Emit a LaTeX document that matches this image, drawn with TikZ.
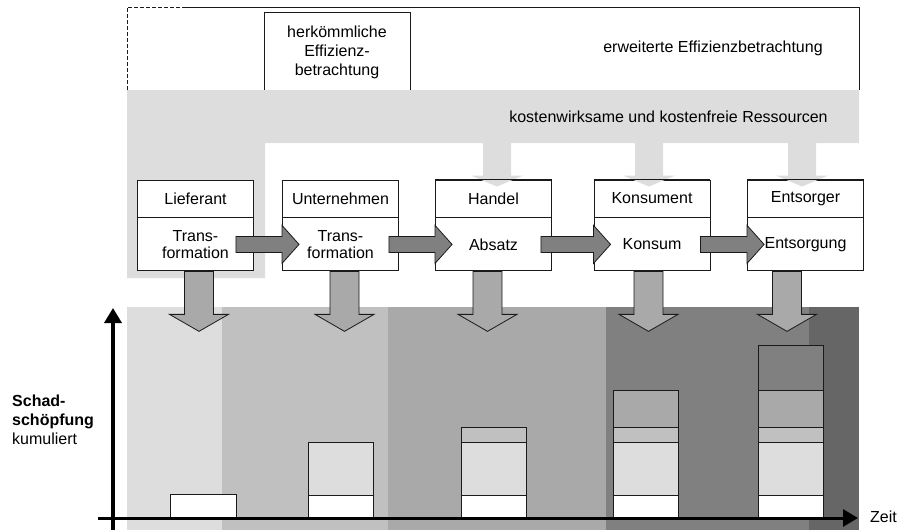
\documentclass[tikz,border=0pt]{standalone}
\usepackage{fontspec}
\setmainfont{Liberation Sans}
\usetikzlibrary{calc,arrows.meta}
\definecolor{g1}{HTML}{DDDDDD}
\definecolor{g2}{HTML}{C0C0C0}
\definecolor{g3}{HTML}{A9A9A9}
\definecolor{g4}{HTML}{808080}
\definecolor{g5}{HTML}{666666}
\definecolor{edge}{HTML}{1A1A1A}

% horizontal flow arrow between the lower parts of two stage boxes
\newcommand\flowar[3]{%
  \draw[flowarrow] ($(#1.east)+(-#3,-8)$) -- ($(#2.west)+(0,-8)$) -- ++(0,-11)
    -- ++(17,19) -- ++(-17,19) -- ++(0,-11) -- ($(#1.east)+(-#3,8)$) -- cycle;}
% downward arrow from a stage box into the time line
\newcommand\dropar[2]{%
  \draw[droparrow] ($(#1.south)+(#2-14.5,0)$) -- ++(0,43) -- ++(-15,0)
    -- ++(29.5,17) -- ++(29.5,-17) -- ++(-15,0) -- ++(0,-43) -- cycle;}
% resource arrow from the band into the top of a stage box
\newcommand\feedar[2]{%
  \fill[g1] ($(#1.north)+(#2-14,-37)$) -- ++(0,33) -- ++(-12,0)
    -- ++(26,11) -- ++(26,-11) -- ++(-12,0) -- ++(0,-33) -- cycle;
  \draw[edge, line width=0.9pt] (#1.north west) -- (#1.north east);}

\begin{document}
\begin{tikzpicture}[x=1pt,y=-1pt,
  every node/.style={font=\fontsize{16}{17}\selectfont, inner sep=0pt, text=black},
  stagehead/.style={draw=edge, line width=0.9pt, fill=white,
    minimum width=116pt, minimum height=37pt},
  stagebody/.style={draw=edge, line width=0.9pt, fill=white,
    minimum width=116pt, minimum height=53pt, align=center, anchor=north},
  flowarrow/.style={draw=edge, line width=0.8pt, fill=g4},
  droparrow/.style={draw=edge, line width=0.8pt, fill=g3},
  barseg/.style={draw=edge, line width=0.9pt},
  axisline/.style={line width=#1, -{Triangle[width=17pt,length=15pt]}},
  sidelabel/.style={anchor=base west},
]
\useasboundingbox (0,0) rectangle (904,530);

% time line phases
\fill[g1] (127,307) rectangle (222,530);
\fill[g2] (222,307) rectangle (388,530);
\fill[g3] (388,307) rectangle (606,530);
\fill[g4] (606,307) rectangle (809,530);
\fill[g5] (809,307) rectangle (859,530);

% frame of the extended view
\draw[edge, line width=0.8pt, dash pattern=on 4pt off 2pt] (127,90) -- (127,7) -- (183,7);
\draw[edge, line width=1pt] (183,7) -- (859,7) -- (859,90);
\node[draw=edge, line width=0.9pt, minimum width=146pt, minimum height=80pt,
  align=center, font=\fontsize{16}{19}\selectfont] (classic) at (337,52)
  {herkömmliche\\Effizienz-\\betrachtung};
\node (extended) at (713,48) {erweiterte Effizienzbetrachtung};

% resource band
\fill[g1] (127,90) -- (859,90) -- (859,143) -- (265,143) -- (265,278) -- (127,278) -- cycle;
\node (resources) at (668.5,117) {kostenwirksame und kostenfreie Ressourcen};

% stages of the value chain
\node[stagehead] (lief-h) at (195.5,198.5) {Lieferant};
\node[stagebody] (lief-b) at (lief-h.south) {Trans-\\formation};
\node[stagehead] (unt-h) at (340.5,198.5) {Unternehmen};
\node[stagebody] (unt-b) at (unt-h.south) {Trans-\\formation};
\node[stagehead] (hand-h) at (493.5,198.5) {Handel};
\node[stagebody] (hand-b) at (hand-h.south) {Absatz};
\node[stagehead] (kons-h) at (652,198.5) {Konsument};
\node[stagebody] (kons-b) at (kons-h.south) {Konsum};
\node[stagehead] (ents-h) at (805.5,198.5) {Entsorger};
\node[stagebody] (ents-b) at (ents-h.south) {Entsorgung};

% resources flowing into the later stages
\feedar{hand-h}{3.5}
\feedar{kons-h}{-3}
\feedar{ents-h}{-3.5}

% material flow between the stages
\flowar{lief-b}{unt-b}{18}
\flowar{unt-b}{hand-b}{10}
\flowar{hand-b}{kons-b}{11}
\flowar{kons-b}{ents-b}{10}

% damage caused by each stage
\dropar{lief-b}{3.5}
\dropar{unt-b}{4}
\dropar{hand-b}{-6}
\dropar{kons-b}{-3.5}
\dropar{ents-b}{-18.5}

% cumulated damage
\draw[barseg, fill=white] (170,494) rectangle (236,518);
\foreach \xa/\xb in {308/373, 461/526, 613/678, 758/823}
  \draw[barseg, fill=white] (\xa,495) rectangle (\xb,518);
\foreach \xa/\xb in {308/373, 461/526, 613/678, 758/823}
  \draw[barseg, fill=g1] (\xa,442) rectangle (\xb,495);
\foreach \xa/\xb in {461/526, 613/678, 758/823}
  \draw[barseg, fill=g2] (\xa,427) rectangle (\xb,442);
\foreach \xa/\xb in {613/678, 758/823}
  \draw[barseg, fill=g3] (\xa,390) rectangle (\xb,427);
\draw[barseg, fill=g4] (758,345) rectangle (823,390);

% axes
\coordinate (ybase) at (113,530);
\coordinate (ytop) at (113,308);
\coordinate (xbase) at (98,518);
\coordinate (xend) at (858,518);
\draw[axisline=3.5pt] (ybase) -- (ytop);
\draw[axisline=3pt] (xbase) -- (xend);
\node[anchor=west] (time) at (870,517) {Zeit};

\node[sidelabel, font=\fontsize{16}{17}\selectfont\bfseries] (lab-a) at (12,406) {Schad-};
\node[sidelabel, font=\fontsize{16}{17}\selectfont\bfseries] (lab-b) at (12,425) {schöpfung};
\node[sidelabel] (lab-c) at (12,444) {kumuliert};
\end{tikzpicture}
\end{document}
